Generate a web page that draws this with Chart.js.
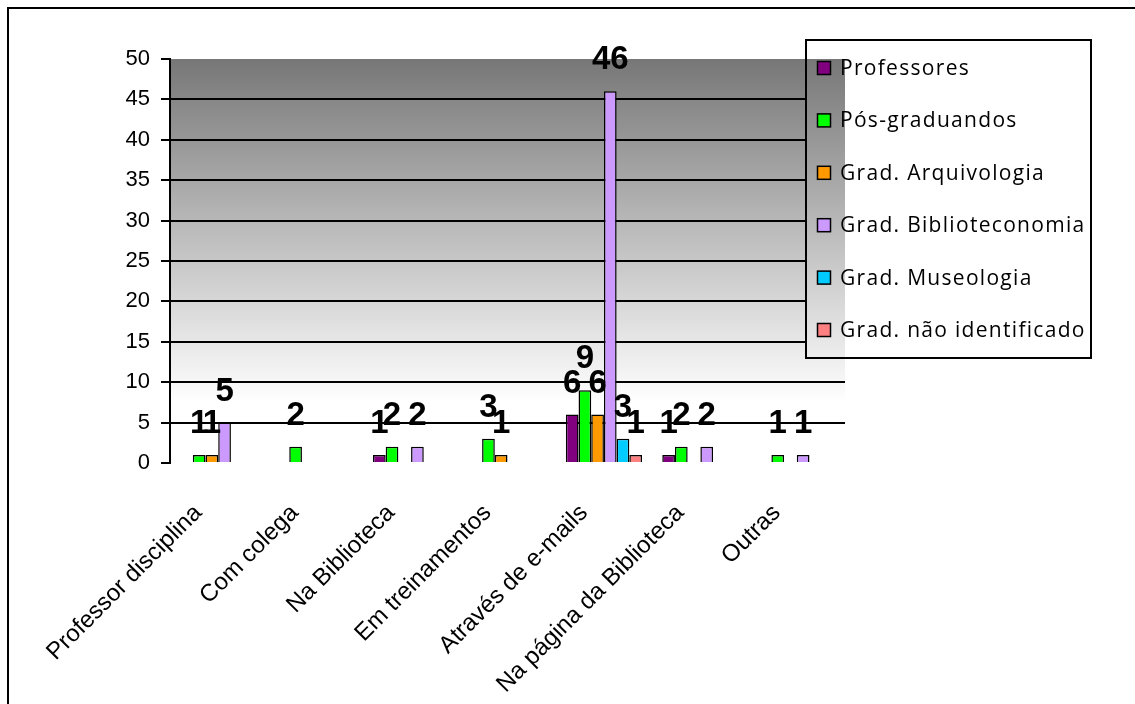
<!DOCTYPE html>
<html>
<head>
<meta charset="utf-8">
<script src="https://cdn.jsdelivr.net/npm/chart.js@4"></script>
<style>
  html, body { margin: 0; padding: 0; background: #fff; overflow: hidden; }
  #wrap { position: relative; width: 1135px; height: 704px; }
  #frame { position: absolute; left: 7px; top: 7px; width: 1200px; height: 800px; border: 2px solid #000; box-sizing: border-box; }
  canvas { position: absolute; left: 0; top: 0; }
</style>
</head>
<body>
<div id="wrap">
  <div id="frame"></div>
  <canvas id="c" width="1135" height="704"></canvas>
</div>
<script>
// Categories (where the respondents learned about the service)
const categories = [
  "Professor disciplina",
  "Com colega",
  "Na Biblioteca",
  "Em treinamentos",
  "Através de e-mails",
  "Na página da Biblioteca",
  "Outras"
];

// Series names
const seriesNames = [
  "Professores",
  "Pós-graduandos",
  "Grad. Arquivologia",
  "Grad. Biblioteconomia",
  "Grad. Museologia",
  "Grad. não identificado"
];

// Series values, one per category
const professores       = [0, 0, 1, 0, 6, 1, 0];
const posGraduandos     = [1, 2, 2, 3, 9, 2, 1];
const gradArquivologia  = [1, 0, 0, 1, 6, 0, 0];
const gradBiblioteconomia = [5, 0, 2, 0, 46, 2, 1];
const gradMuseologia    = [0, 0, 0, 0, 3, 0, 0];
const gradNaoIdentificado = [0, 0, 0, 0, 1, 0, 0];

// Value axis ticks
const yTicks = [0, 5, 10, 15, 20, 25, 30, 35, 40, 45, 50];

const seriesValues = [professores, posGraduandos, gradArquivologia,
                      gradBiblioteconomia, gradMuseologia, gradNaoIdentificado];
const seriesColors = ["#800080", "#00FF00", "#FF9900", "#CC99FF", "#00CCFF", "#FF8080"];

function plotGradient(ctx, area) {
  const g = ctx.createLinearGradient(0, area.top, 0, area.bottom);
  g.addColorStop(0, "#777777");
  g.addColorStop(0.85, "#ffffff");
  g.addColorStop(1, "#ffffff");
  return g;
}

// Grey-to-white plot background
const plotBackground = {
  id: "plotBackground",
  beforeDraw(chart) {
    const { ctx, chartArea: a } = chart;
    ctx.save();
    ctx.fillStyle = plotGradient(ctx, a);
    ctx.fillRect(a.left, a.top, a.right - a.left, a.bottom - a.top);
    ctx.restore();
  }
};

// Bold value labels above each non-zero bar
const valueLabels = {
  id: "valueLabels",
  afterDatasetsDraw(chart) {
    const ctx = chart.ctx;
    ctx.save();
    ctx.font = "bold 33px 'Liberation Sans', Arial, sans-serif";
    ctx.fillStyle = "#000";
    ctx.textAlign = "center";
    ctx.textBaseline = "alphabetic";
    chart.data.datasets.forEach((ds, di) => {
      const meta = chart.getDatasetMeta(di);
      meta.data.forEach((bar, i) => {
        const v = ds.data[i];
        if (v > 0) ctx.fillText(String(v), bar.x, bar.y - 22);
      });
    });
    ctx.restore();
  }
};

// Boxed legend at the upper right, overlapping the plot edge
const boxLegend = {
  id: "boxLegend",
  afterDraw(chart) {
    const { ctx, chartArea: a } = chart;
    const box = { x: 806, y: 40, w: 285, h: 318 };
    ctx.save();
    ctx.fillStyle = "#fff";
    ctx.fillRect(box.x, box.y, box.w, box.h);
    // plot background continues beneath the legend
    const ix = box.x, iy = Math.max(box.y, a.top);
    const iw = a.right - ix, ih = box.y + box.h - iy;
    if (iw > 0 && ih > 0) {
      ctx.fillStyle = plotGradient(ctx, a);
      ctx.fillRect(ix, iy, iw, ih);
    }
    ctx.strokeStyle = "#000";
    ctx.lineWidth = 2;
    ctx.strokeRect(box.x, box.y, box.w, box.h);

    ctx.font = "21px 'Open Sans', sans-serif";
    ctx.letterSpacing = "1.3px";
    ctx.textAlign = "left";
    ctx.textBaseline = "middle";
    chart.data.datasets.forEach((ds, i) => {
      const cy = 68 + i * 52.4;
      ctx.fillStyle = ds.backgroundColor;
      ctx.fillRect(817.5, cy - 6.5, 13, 13);
      ctx.lineWidth = 1.5;
      ctx.strokeStyle = "#000";
      ctx.strokeRect(817.5, cy - 6.5, 13, 13);
      ctx.fillStyle = "#000";
      ctx.fillText(ds.label, 840, cy + 1);
    });
    ctx.restore();
  }
};

const datasets = seriesNames.map((name, i) => ({
  label: name,
  data: seriesValues[i],
  backgroundColor: seriesColors[i],
  borderColor: "#000",
  borderWidth: 1.5,
  barPercentage: 1,
  categoryPercentage: 0.79
}));

new Chart(document.getElementById("c"), {
  type: "bar",
  data: { labels: categories, datasets },
  options: {
    responsive: false,
    animation: false,
    devicePixelRatio: 1,
    layout: { padding: { left: 0, top: 59, right: 290, bottom: 0 } },
    plugins: { legend: { display: false }, tooltip: { enabled: false } },
    scales: {
      x: {
        grid: { display: false },
        border: { display: false },
        ticks: {
          color: "#000",
          font: { family: "'Liberation Sans', Arial, sans-serif", size: 24 },
          minRotation: 45,
          maxRotation: 45,
          autoSkip: false,
          padding: 28,
          labelOffset: -20
        },
        afterFit(scale) { scale.height = 241; }
      },
      y: {
        min: 0,
        max: 50,
        afterBuildTicks(scale) { scale.ticks = yTicks.map(v => ({ value: v })); },
        grid: {
          color: c => (c.tick && (c.tick.value === 0 || c.tick.value === 50)) ? "rgba(0,0,0,0)" : "#000",
          tickColor: "#000",
          lineWidth: 2,
          tickLength: 9
        },
        border: { color: "#000", width: 2 },
        ticks: {
          color: "#000",
          font: { family: "'Liberation Sans', Arial, sans-serif", size: 22 },
          padding: 11
        },
        afterFit(scale) { scale.width = 170; }
      }
    }
  },
  plugins: [plotBackground, valueLabels, boxLegend]
});
</script>
</body>
</html>
